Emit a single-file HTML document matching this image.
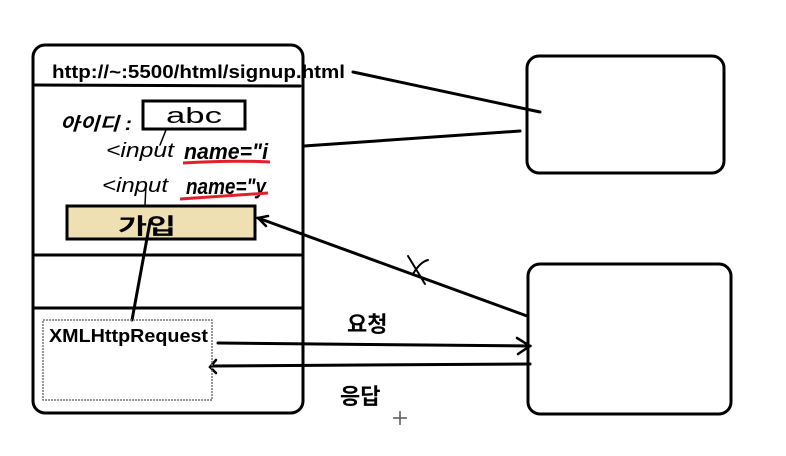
<!DOCTYPE html>
<html><head><meta charset="utf-8"><style>
html,body{margin:0;padding:0;background:#fff;width:786px;height:456px;overflow:hidden}
svg{display:block}
text{font-family:"Liberation Sans","Noto Sans CJK KR",sans-serif}
</style></head><body>
<svg width="786" height="456" viewBox="0 0 786 456" xmlns="http://www.w3.org/2000/svg">
<g fill="none" stroke="#000" stroke-width="3" stroke-linecap="round">
<rect x="33" y="45" width="270" height="368" rx="12"/>
<line x1="34" y1="85" x2="300" y2="86"/>
<line x1="34" y1="255" x2="302" y2="255"/>
<line x1="34" y1="308" x2="302" y2="308"/>
<rect x="143" y="101" width="102" height="28"/>
<rect x="67" y="206" width="188" height="33" fill="#efe0b3"/>
<rect x="527" y="56" width="197" height="117" rx="12"/>
<rect x="528" y="264" width="203" height="150" rx="12"/>
<line x1="353" y1="72" x2="540" y2="112"/>
<line x1="304" y1="146" x2="520" y2="131"/>
<line x1="527" y1="316" x2="258" y2="218"/>
<polyline points="268,216 258,218 266,226" stroke-width="2.5"/>
<line x1="408" y1="256" x2="425" y2="284" stroke-width="2"/>
<path d="M413 274 Q420 262 428 260" stroke-width="2"/>
<line x1="218" y1="343" x2="530" y2="346"/>
<polyline points="517,338 530,346 518,354" stroke-width="2.5"/>
<line x1="530" y1="364" x2="212" y2="366"/>
<polyline points="216,360 210,367 216,373" stroke-width="2.5"/>
<line x1="150" y1="222" x2="132" y2="320"/>
<line x1="166" y1="130" x2="160" y2="145" stroke-width="1.5"/>
<line x1="146" y1="185" x2="145" y2="205" stroke-width="1.5"/>
</g>
<rect x="43" y="320" width="169" height="80" fill="none" stroke="#777" stroke-width="1.5" stroke-dasharray="2,1"/>
<text x="52" y="78" font-size="18" font-weight="bold" textLength="293" lengthAdjust="spacingAndGlyphs">http://~:5500/html/signup.html</text>
<text x="60" y="130" font-size="18" font-style="italic" font-weight="bold" textLength="72" lengthAdjust="spacingAndGlyphs">아이디 :</text>
<text x="166" y="123" font-size="22" textLength="56" lengthAdjust="spacingAndGlyphs">abc</text>
<text x="106" y="157" font-size="20" font-style="italic" textLength="68" lengthAdjust="spacingAndGlyphs">&lt;input</text>
<text x="184" y="159" font-size="22" font-style="italic" font-weight="bold" textLength="84" lengthAdjust="spacingAndGlyphs">name="i</text>
<path d="M183 163 Q230 160 270 162" stroke="#e0202a" stroke-width="3" fill="none"/>
<text x="102" y="192" font-size="20" font-style="italic" textLength="66" lengthAdjust="spacingAndGlyphs">&lt;input</text>
<text x="186" y="194" font-size="22" font-style="italic" font-weight="bold" textLength="80" lengthAdjust="spacingAndGlyphs">name="y</text>
<path d="M180 199 Q225 196 268 193" stroke="#e0202a" stroke-width="3" fill="none"/>
<text x="118" y="234" font-size="22" font-weight="bold" textLength="58" lengthAdjust="spacingAndGlyphs">가입</text>
<text x="49" y="342" font-size="18" font-weight="bold" textLength="159" lengthAdjust="spacingAndGlyphs">XMLHttpRequest</text>
<text x="347" y="332" font-size="22" font-weight="bold">요청</text>
<text x="340" y="404" font-size="22" font-weight="bold">응답</text>
<line x1="400" y1="411" x2="400" y2="425" stroke="#555" stroke-width="1.5"/>
<line x1="393" y1="418" x2="407" y2="418" stroke="#555" stroke-width="1.5"/>
</svg>
</body></html>
